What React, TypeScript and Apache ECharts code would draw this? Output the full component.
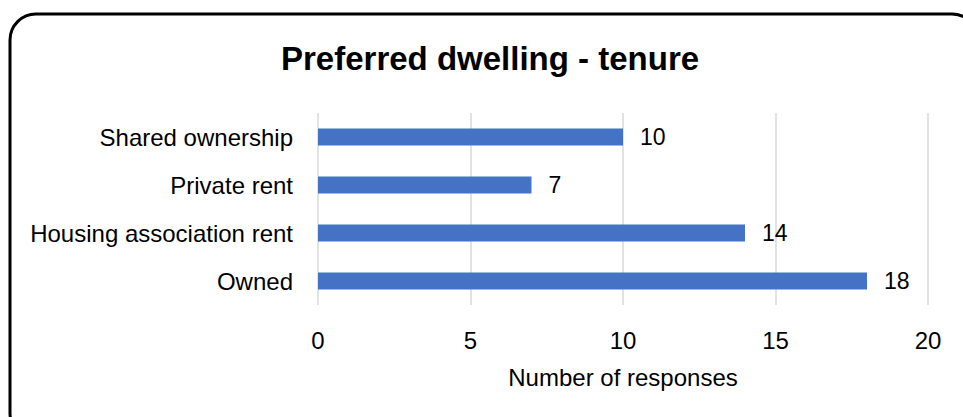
import React, { useEffect, useRef } from "react";
import * as echarts from "echarts";

const categories = ["Shared ownership", "Private rent", "Housing association rent", "Owned"];
const values = [10, 7, 14, 18];
const titleText = "Preferred dwelling - tenure";
const axisName = "Number of responses";

export default function App() {
  const ref = useRef<HTMLDivElement>(null);
  useEffect(() => {
    if (!ref.current) return;
    const chart = echarts.init(ref.current, undefined, { renderer: "svg" });
    const font = "'Liberation Sans', Arial, sans-serif";
    chart.setOption({
      animation: false,
      backgroundColor: "#fff",
      textStyle: { fontFamily: font },
      title: {
        text: titleText,
        left: 276,
        top: 37,
        textStyle: { fontFamily: font, fontWeight: "bold", fontSize: 33, color: "#000" },
      },
      graphic: [
        {
          type: "rect",
          shape: { x: 10, y: 14, width: 968, height: 425, r: 26 },
          style: { fill: "none", stroke: "#000", lineWidth: 3 },
          silent: true,
        },
      ],
      grid: { left: 318, right: 35, top: 113, bottom: 112, containLabel: false },
      xAxis: {
        type: "value",
        min: 0,
        max: 20,
        interval: 5,
        axisLine: { show: false },
        axisTick: { show: false },
        splitLine: { lineStyle: { color: "#d9d9d9", width: 1.5 } },
        axisLabel: { color: "#000", fontSize: 24, margin: 23, fontFamily: font },
        name: axisName,
        nameLocation: "middle",
        nameGap: 60,
        nameTextStyle: { color: "#000", fontSize: 24, fontFamily: font },
      },
      yAxis: {
        type: "category",
        inverse: true,
        data: categories,
        axisLine: { show: false },
        axisTick: { show: false },
        axisLabel: { color: "#000", fontSize: 24, margin: 25, fontFamily: font },
      },
      series: [
        {
          type: "bar",
          data: values,
          barWidth: 17,
          itemStyle: { color: "#4472C4" },
          label: {
            show: true,
            position: "right",
            distance: 17,
            color: "#000",
            fontSize: 23,
            fontFamily: font,
          },
        },
      ],
    });
    return () => chart.dispose();
  }, []);
  return (
    <div
      ref={ref}
      style={{ position: "fixed", left: 0, top: 0, width: 963, height: 417 }}
    />
  );
}
